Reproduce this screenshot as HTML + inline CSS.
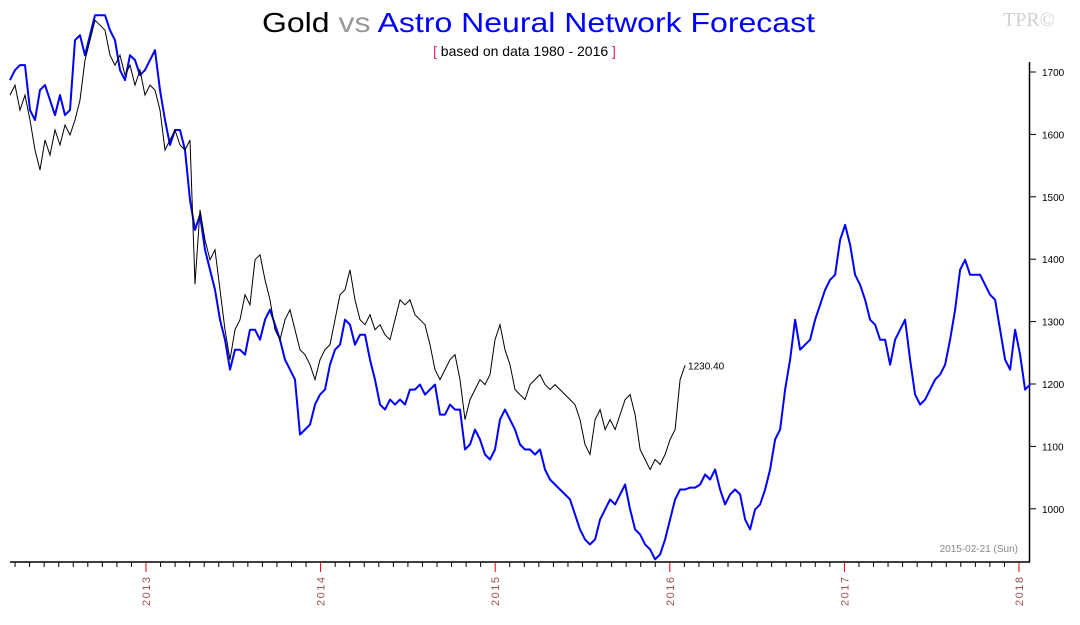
<!DOCTYPE html>
<html><head><meta charset="utf-8"><style>
html,body{margin:0;padding:0;background:#fff;}
svg{display:block;font-family:"Liberation Sans",sans-serif;}
</style></head><body>
<svg id="chart" width="1080" height="625" viewBox="0 0 1080 625">
<text x="262" y="32" font-size="28" textLength="553" lengthAdjust="spacingAndGlyphs"><tspan fill="#000">Gold </tspan><tspan fill="#999">vs </tspan><tspan fill="#0000ff">Astro Neural Network Forecast</tspan></text>
<text x="433" y="56" font-size="14"><tspan fill="#ff2060">[</tspan><tspan fill="#000"> based on data 1980 - 2016 </tspan><tspan fill="#ff2060">]</tspan></text>
<text x="1003" y="26" font-size="20" font-family="Liberation Serif,serif" fill="#d0d0d0">TPR©</text>
<text x="1018" y="552" font-size="10" fill="#888" text-anchor="end">2015-02-21 (Sun)</text>
<g id="axes"></g>
<g id="series"></g>
</svg>
<script>
const yearTicks = [2013, 2014, 2015, 2016, 2017, 2018];
const priceTicks = [1000, 1100, 1200, 1300, 1400, 1500, 1600, 1700];
const goldStart = 2012.221;
const forecastStart = 2012.221;
const stepYears = 0.02864;
const goldLastLabel = "1230.40";
const goldValues = [1663,1679,1639,1663,1623,1575,1543,1591,1567,1607,1583,1615,1599,1623,1655,1719,1751,1783,1775,1767,1727,1711,1727,1695,1711,1679,1703,1663,1679,1671,1639,1575,1591,1607,1583,1575,1591,1360,1479,1431,1399,1415,1351,1287,1239,1287,1303,1343,1327,1399,1407,1367,1335,1287,1271,1303,1319,1287,1255,1247,1231,1207,1239,1255,1263,1303,1343,1351,1383,1335,1303,1295,1311,1287,1295,1279,1271,1303,1335,1327,1335,1311,1303,1295,1263,1223,1207,1223,1239,1247,1207,1143,1175,1191,1207,1199,1215,1271,1295,1255,1231,1191,1183,1175,1199,1207,1215,1199,1191,1199,1191,1183,1175,1167,1143,1103,1087,1143,1159,1127,1143,1127,1151,1175,1183,1151,1095,1079,1063,1079,1071,1087,1111,1127,1207,1230];
const forecastValues = [1687,1703,1711,1711,1639,1623,1671,1679,1655,1631,1663,1631,1639,1751,1759,1727,1759,1791,1791,1791,1767,1751,1703,1687,1727,1719,1695,1703,1719,1735,1671,1623,1583,1607,1607,1575,1495,1447,1471,1415,1383,1351,1303,1271,1223,1255,1255,1247,1287,1287,1271,1303,1319,1295,1271,1239,1223,1207,1119,1127,1135,1167,1183,1191,1231,1255,1263,1303,1295,1263,1279,1279,1239,1207,1167,1159,1175,1167,1175,1167,1191,1191,1199,1183,1191,1199,1151,1151,1167,1159,1159,1095,1103,1127,1111,1087,1079,1095,1143,1159,1143,1127,1103,1095,1095,1087,1095,1063,1047,1039,1031,1023,1015,991,967,951,943,951,983,999,1015,1007,1023,1039,999,967,959,943,935,919,927,951,983,1015,1031,1031,1034,1034,1039,1055,1047,1063,1031,1007,1023,1031,1023,983,967,999,1007,1031,1063,1111,1127,1191,1239,1303,1255,1263,1271,1303,1327,1351,1367,1375,1431,1455,1423,1375,1359,1335,1303,1295,1271,1271,1231,1271,1287,1303,1239,1183,1167,1175,1191,1207,1215,1231,1271,1319,1383,1399,1375,1375,1375,1359,1343,1335,1287,1239,1223,1287,1247,1191,1199];

const NS = "http://www.w3.org/2000/svg";
function xScale(t){ return 146 + (t - 2013) * 174.6; }
function yScale(v){ return 72 + (1700 - v) * 0.624; }
function mk(tag, attrs, parent){
  const e = document.createElementNS(NS, tag);
  for (const k in attrs) e.setAttribute(k, attrs[k]);
  parent.appendChild(e); return e;
}
const axes = document.getElementById('axes');
const series = document.getElementById('series');

const xAxis = mk('line', {x1:10, y1:562, x2:1030, y2:562, stroke:'#000', 'stroke-width':1.5}, axes);


const yAxis = mk('line', {x1:1029.5, y1:62, x2:1029.5, y2:562, stroke:'#000', 'stroke-width':1.5}, axes);



// monthly minor ticks
for (let m = 0; m < 12 * 7; m++) {
  const t = 2012 + m / 12;
  const x = xScale(t);
  if (x < 10 || x > 1029) continue;
  if (m % 12 === 0) continue;
  const tk = mk('line', {x1:x, y1:562, x2:x, y2:567, stroke:'#000', 'stroke-width':1}, axes);
  
  
}
yearTicks.forEach(function(yr){
  const x = xScale(yr);
  const tk = mk('line', {x1:x, y1:562, x2:x, y2:572, stroke:'#e00000', 'stroke-width':1}, axes);
  
  
  const lb = mk('text', {x:0, y:0, 'font-size':11, fill:'#a05050', transform:'translate(' + (x + 4) + ',606) rotate(-90)', 'letter-spacing':'1.5'}, axes);
  lb.textContent = String(yr);
  
  
});
priceTicks.forEach(function(v){
  const y = yScale(v);
  const tk = mk('line', {x1:1029, y1:y, x2:1036, y2:y, stroke:'#000', 'stroke-width':1}, axes);
  
  
  const lb = mk('text', {x:1042, y:y + 4, 'font-size':10, fill:'#000'}, axes);
  lb.textContent = String(v);
  
  
});

function pathFor(vals, start){
  return vals.map(function(v, i){
    return (i ? 'L' : 'M') + xScale(start + i * stepYears).toFixed(1) + ' ' + yScale(v).toFixed(1);
  }).join(' ');
}
const fLine = mk('path', {d:pathFor(forecastValues, forecastStart), fill:'none', stroke:'#0000ff', 'stroke-width':2, 'stroke-linejoin':'round'}, series);


const gLine = mk('path', {d:pathFor(goldValues, goldStart), fill:'none', stroke:'#000', 'stroke-width':1}, series);



const li = goldValues.length - 1;
const lastLbl = mk('text', {x:xScale(goldStart + li * stepYears) + 3, y:yScale(goldValues[li]) + 4, 'font-size':10, fill:'#000'}, series);
lastLbl.textContent = goldLastLabel;


</script>
</body></html>
